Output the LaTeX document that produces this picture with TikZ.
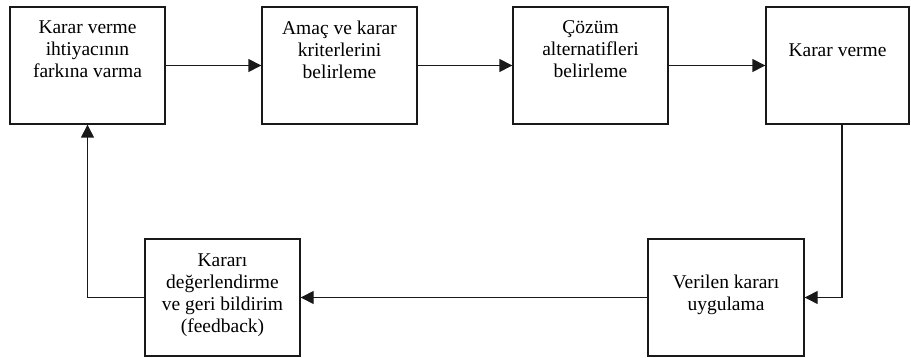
\documentclass[tikz,border=0pt]{standalone}
\usepackage{fontspec}
\setmainfont{Liberation Serif}
\usetikzlibrary{arrows.meta}
\begin{document}
\begin{tikzpicture}[x=1pt,y=-1pt,
  box/.style={draw=black!90, line width=1.4pt, rectangle, inner sep=0pt},
  lbl/.style={anchor=north, inner sep=0pt, align=center, font=\fontsize{19.5}{22}\selectfont, text=black},
  arr/.style={draw=black!90, line width=1.4pt, -{Triangle[length=13pt,width=13pt]}}]
\useasboundingbox (0,0) rectangle (911,358);
\node[box, minimum width=155pt, minimum height=117pt] (b1) at (87.5,65.5) {};
\node[box, minimum width=155pt, minimum height=117pt] (b2) at (339.5,65.5) {};
\node[box, minimum width=155pt, minimum height=117pt] (b3) at (590.5,65.5) {};
\node[box, minimum width=143pt, minimum height=117pt] (b4) at (837.5,65.5) {};
\node[box, minimum width=156pt, minimum height=117pt] (b5) at (726,297.5) {};
\node[box, minimum width=155pt, minimum height=117pt] (b6) at (222.5,297.5) {};
\node[lbl] (t1) at (87.5,20.5) {Karar verme\\ihtiyacının\\farkına varma};
\node[lbl] (t2) at (339.5,20.5) {Amaç ve karar\\kriterlerini\\belirleme};
\node[lbl] (t3) at (590.5,20.5) {Çözüm\\alternatifleri\\belirleme};
\node[lbl] (t4) at (837.5,43.5) {Karar verme};
\node[lbl] (t5) at (726,274.5) {Verilen kararı\\uygulama};
\node[lbl] (t6) at (222.5,253.5) {Kararı\\değerlendirme\\ve geri bildirim\\(feedback)};
\coordinate (c1) at (842,297.5);
\draw[arr] (b1.east) -- (b2.west);
\draw[arr] (b2.east) -- (b3.west);
\draw[arr] (b3.east) -- (b4.west);
\draw[arr] (b4.south -| c1) |- (b5.east);
\draw[arr] (b5.west) -- (b6.east);
\draw[arr] (b6.west) -| (b1.south);
\end{tikzpicture}
\end{document}
